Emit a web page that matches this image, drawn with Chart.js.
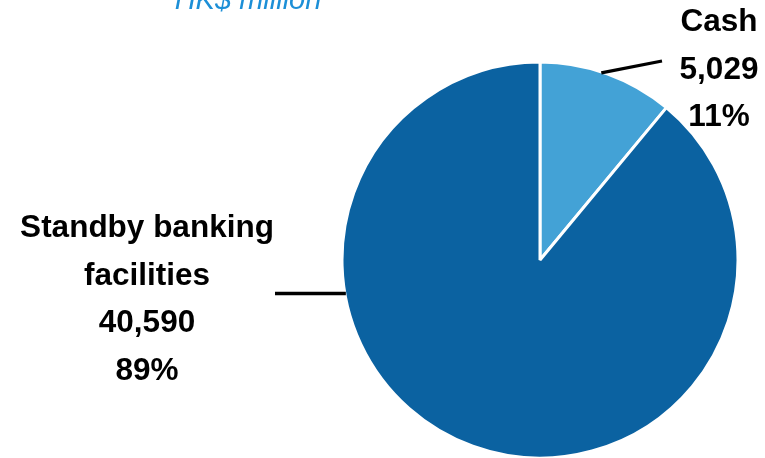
<!DOCTYPE html>
<html>
<head>
<meta charset="utf-8">
<script src="https://cdn.jsdelivr.net/npm/chart.js@4.4.0/dist/chart.umd.min.js"></script>
<style>
  html, body { margin: 0; padding: 0; background: #fff; }
  #wrap { width: 765px; height: 458px; position: relative; }
</style>
</head>
<body>
<div id="wrap"><canvas id="liquidityPie"></canvas></div>
<script>
// Liquidity sources, HK$ million
const categories = ['Cash', 'Standby banking facilities'];
const amounts = [5029, 40590];
const sliceColors = ['#43A2D6', '#0B62A1'];
const unitLabel = 'HK$ million';

const total = amounts.reduce((a, b) => a + b, 0);

// label blocks: lines of text, centre x, first baseline
const labelBlocks = [
  { lines: ['Cash'], x: 719, y: 31 },
  { lines: ['Standby banking', 'facilities'], x: 147, y: 237 }
];

const labelPlugin = {
  id: 'pieLabels',
  afterDraw(chart) {
    const ctx = chart.ctx;
    const meta = chart.getDatasetMeta(0);
    const cx = meta.data[0].x;
    const cy = meta.data[0].y;
    const r = meta.data[0].outerRadius;

    // unit caption, partly cut off at the top
    ctx.save();
    ctx.fillStyle = '#1C8FD7';
    ctx.font = 'italic 29px "Liberation Sans", Arial, sans-serif';
    ctx.textAlign = 'center';
    ctx.textBaseline = 'alphabetic';
    ctx.fillText(unitLabel, 248, 9);

    // leader lines
    ctx.strokeStyle = '#000';
    ctx.lineWidth = 3.3;
    ctx.lineCap = 'butt';
    const cashArc = meta.data[0];
    const mid = (cashArc.startAngle + cashArc.endAngle) / 2 - 0.03;
    ctx.beginPath();
    ctx.moveTo(cx + Math.cos(mid) * (r - 1), cy + Math.sin(mid) * (r - 1));
    ctx.lineTo(662, 61);
    ctx.stroke();

    const ly = 293.5;
    const edgeX = cx - Math.sqrt(r * r - (ly - cy) * (ly - cy));
    ctx.beginPath();
    ctx.moveTo(275, ly);
    ctx.lineTo(edgeX + 1, ly);
    ctx.stroke();

    // category, value and share
    ctx.fillStyle = '#000';
    ctx.font = 'bold 31.5px "Liberation Sans", Arial, sans-serif';
    const lineGap = 47.7;
    labelBlocks.forEach((blk, i) => {
      const pct = Math.round(amounts[i] / total * 100) + '%';
      const lines = blk.lines.concat([amounts[i].toLocaleString('en-US'), pct]);
      lines.forEach((t, k) => ctx.fillText(t, blk.x, blk.y + k * lineGap));
    });
    ctx.restore();
  }
};

new Chart(document.getElementById('liquidityPie'), {
  type: 'pie',
  data: {
    labels: categories,
    datasets: [{
      data: amounts,
      backgroundColor: sliceColors,
      borderColor: '#fff',
      borderWidth: 3
    }]
  },
  options: {
    responsive: true,
    maintainAspectRatio: false,
    animation: false,
    radius: 198,
    layout: {
      padding: { left: 343, right: 28, top: 63, bottom: 1 }
    },
    plugins: {
      legend: { display: false },
      tooltip: { enabled: false }
    }
  },
  plugins: [labelPlugin]
});
</script>
</body>
</html>
